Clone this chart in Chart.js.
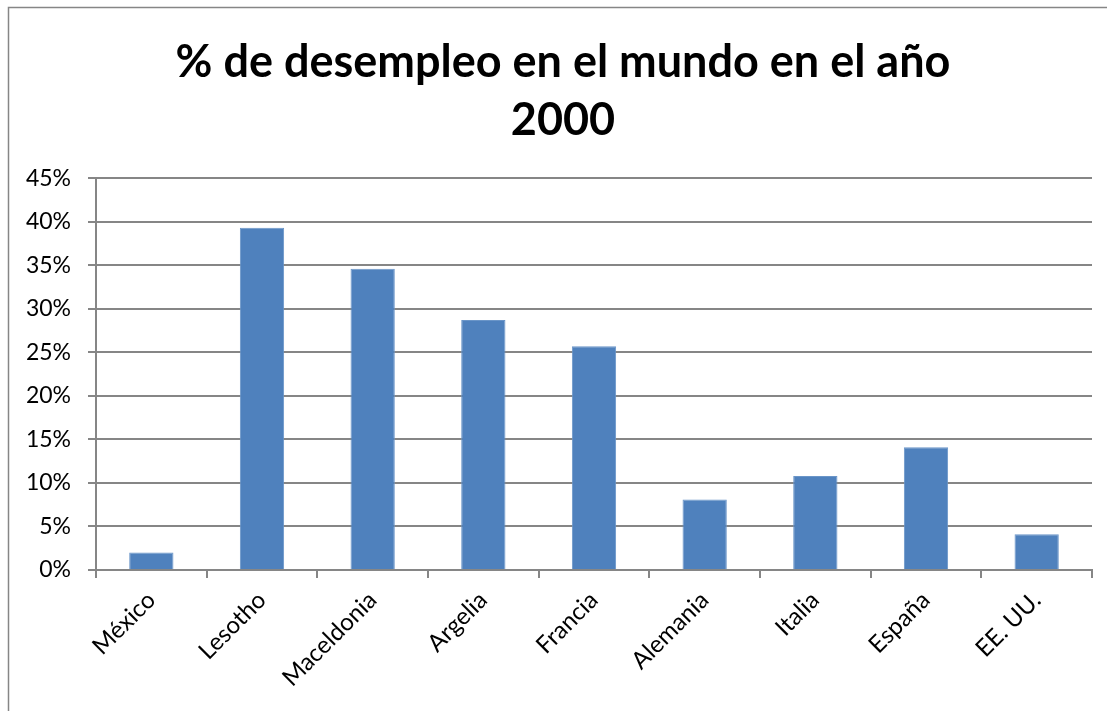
<!DOCTYPE html>
<html>
<head>
<meta charset="utf-8">
<script src="https://cdn.jsdelivr.net/npm/chart.js@4.4.1/dist/chart.umd.min.js"></script>
<style>
  html, body { margin: 0; padding: 0; background: #ffffff; overflow: hidden; }
  #wrap { position: relative; width: 1107px; height: 711px; }
</style>
</head>
<body>
<div id="wrap"><canvas id="desempleoCanvas" width="1107" height="711"></canvas></div>
<script>
// datos
let paises = ['México', 'Lesotho', 'Maceldonia', 'Argelia', 'Francia', 'Alemania', 'Italia', 'España', 'EE. UU.'];
let desempleo = [2.0, 39.3, 34.6, 28.7, 25.7, 8.1, 10.8, 14.1, 4.1];
let tituloLineas = ['% de desempleo en el mundo en el año', '2000'];
let ejeMax = 45;
let ejePaso = 5;

// marco gris alrededor del grafico (el lado derecho queda fuera de la ventana)
const marco = {
    id: 'marco',
    afterLayout(chart) {
        // el titulo del original esta centrado en el marco, no en el area del grafico
        if (chart.titleBlock) {
            chart.titleBlock.left = 34;
        }
    },
    beforeDraw(chart) {
        let ctx = chart.ctx;
        ctx.save();
        ctx.strokeStyle = '#868686';
        ctx.lineWidth = 1.5;
        ctx.strokeRect(8.5, 7.5, 1109, 720);
        ctx.restore();
    }
};

let ctx = document.getElementById('desempleoCanvas').getContext('2d');
let barChart = new Chart(ctx, {
    type: 'bar',
    data: {
        labels: paises,
        datasets: [{
            label: '% de desempleo',
            data: desempleo,
            backgroundColor: '#4F81BD',
            borderColor: '#6a95c8',
            borderWidth: 1,
            categoryPercentage: 1.0,
            barPercentage: 0.4
        }]
    },
    options: {
        responsive: false,
        animation: false,
        layout: { padding: { left: 0, right: 15, top: 0, bottom: 0 } },
        plugins: {
            legend: { display: false },
            tooltip: { enabled: false },
            title: {
                display: true,
                text: tituloLineas,
                color: '#000000',
                font: { family: 'Lato', size: 45, weight: 'bold', lineHeight: 1.29 },
                padding: { top: 33, bottom: 29 }
            }
        },
        scales: {
            x: {
                grid: {
                    offset: true,
                    drawOnChartArea: false,
                    drawTicks: true,
                    tickLength: 8,
                    color: '#868686',
                    lineWidth: 2
                },
                border: { color: '#868686', width: 2 },
                ticks: {
                    color: '#000000',
                    font: { family: 'Lato', size: 24 },
                    maxRotation: 45,
                    minRotation: 45,
                    padding: 8
                },
                afterFit(scale) { scale.height = 141; }
            },
            y: {
                min: 0,
                max: ejeMax,
                grid: {
                    color: '#868686',
                    lineWidth: 2,
                    drawTicks: true,
                    tickLength: 8
                },
                border: { color: '#868686', width: 2 },
                ticks: {
                    stepSize: ejePaso,
                    color: '#000000',
                    font: { family: 'Lato', size: 23 },
                    padding: 17,
                    callback: function(v) { return v + '%'; }
                },
                afterFit(scale) { scale.width = 96; }
            }
        }
    },
    plugins: [marco]
});
</script>
</body>
</html>
